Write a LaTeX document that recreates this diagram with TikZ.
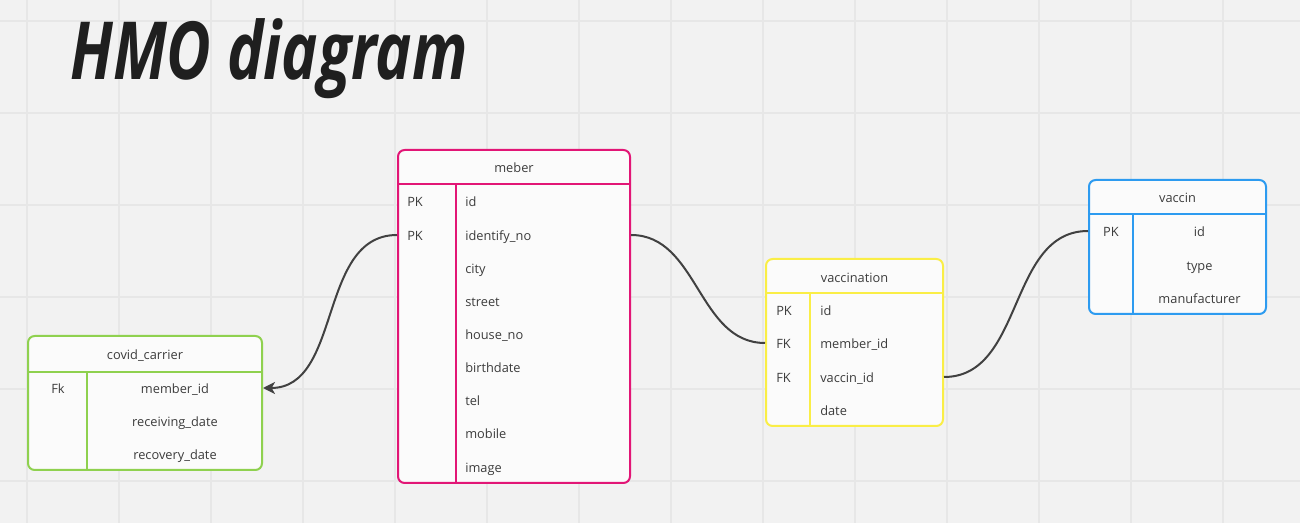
\documentclass[tikz,border=0pt]{standalone}
\usepackage{fontspec}
\setmainfont{Open Sans}
\usetikzlibrary{fit,arrows.meta}
\definecolor{bgc}{RGB}{242,242,242}
\definecolor{gridc}{RGB}{231,231,231}
\definecolor{boxc}{RGB}{251,251,251}
\definecolor{txtc}{RGB}{60,60,60}
\definecolor{linkc}{RGB}{65,65,65}
\definecolor{pinkc}{RGB}{226,22,118}
\definecolor{greenc}{RGB}{143,209,79}
\definecolor{yellowc}{RGB}{250,238,70}
\definecolor{bluec}{RGB}{45,155,240}

\begin{document}
\begin{tikzpicture}[x=0.75pt,y=-0.75pt,
  tbl/.style={draw, line width=1.5pt, rounded corners=5pt, fill=boxc, inner sep=0pt},
  sep/.style={line width=1.5pt},
  fld/.style={font=\fontsize{9.6}{11}\selectfont, text=txtc, inner sep=0pt, text height=10pt, text depth=2pt},
  link/.style={draw=linkc, line width=1.5pt}]
				%%%%% BACKGROUND %%%%%
				\fill[bgc] (0,0) rectangle (1300,523);
				\useasboundingbox (0,0) rectangle (1300,523);
				\foreach \gx in {27,119,...,1300}
					\draw[gridc, line width=0.9pt] (\gx,0) -- (\gx,523);
				\foreach \gy in {21,113,...,523}
					\draw[gridc, line width=0.9pt] (0,\gy) -- (1300,\gy);
				
				\node[anchor=base west, inner sep=0pt, text=black!88] (title) at (70,80)
					{\scalebox{0.74}[0.97]{\fontsize{62}{62}\selectfont\bfseries\itshape HMO diagram}};
				
				%%%%% MEBER %%%%%
				\node[tbl, draw=pinkc, fit={(398,150) (630,483)}] (meber) {};
				\draw[sep, pinkc] (meber.west |- 0,184) -- (meber.east |- 0,184);
				\draw[sep, pinkc] (456,184) -- (456,483);
				\node[fld] (meber-h) at (514,167) {meber};
				\node[fld, anchor=west] (m-pk1) at (407,201) {PK};
				\node[fld, anchor=west] (m-pk2) at (407,235) {PK};
				\node[fld, anchor=west] (m-id) at (465,201) {id};
				\node[fld, anchor=west] (m-idno) at (465,235) {identify\_no};
				\node[fld, anchor=west] (m-city) at (465,268) {city};
				\node[fld, anchor=west] (m-street) at (465,301) {street};
				\node[fld, anchor=west] (m-house) at (465,334) {house\_no};
				\node[fld, anchor=west] (m-birth) at (465,367) {birthdate};
				\node[fld, anchor=west] (m-tel) at (465,400) {tel};
				\node[fld, anchor=west] (m-mobile) at (465,433) {mobile};
				\node[fld, anchor=west] (m-image) at (465,467) {image};
				
				%%%%% COVID_CARRIER %%%%%
				\node[tbl, draw=greenc, fit={(28,336) (262,470)}] (covid) {};
				\draw[sep, greenc] (covid.west |- 0,372) -- (covid.east |- 0,372);
				\draw[sep, greenc] (87,372) -- (87,470);
				\node[fld] (covid-h) at (145,354) {covid\_carrier};
				\node[fld] (c-fk) at (58,388) {Fk};
				\node[fld] (c-mid) at (175,388) {member\_id};
				\node[fld] (c-recv) at (175,421) {receiving\_date};
				\node[fld] (c-recov) at (175,454) {recovery\_date};
				
				%%%%% VACCINATION %%%%%
				\node[tbl, draw=yellowc, fit={(766,259) (943,426)}] (vaccination) {};
				\draw[sep, yellowc] (vaccination.west |- 0,293) -- (vaccination.east |- 0,293);
				\draw[sep, yellowc] (810,293) -- (810,426);
				\node[fld] (vaccination-h) at (854.5,277) {vaccination};
				\node[fld, anchor=west] (v-pk) at (776,310) {PK};
				\node[fld, anchor=west] (v-fk1) at (776,343) {FK};
				\node[fld, anchor=west] (v-fk2) at (776,377) {FK};
				\node[fld, anchor=west] (v-id) at (820,310) {id};
				\node[fld, anchor=west] (v-mid) at (820,343) {member\_id};
				\node[fld, anchor=west] (v-vid) at (820,377) {vaccin\_id};
				\node[fld, anchor=west] (v-date) at (820,410) {date};
				
				%%%%% VACCIN %%%%%
				\node[tbl, draw=bluec, fit={(1089,180) (1266,314)}] (vaccin) {};
				\draw[sep, bluec] (vaccin.west |- 0,214) -- (vaccin.east |- 0,214);
				\draw[sep, bluec] (1133,214) -- (1133,314);
				\node[fld] (vaccin-h) at (1177.5,197) {vaccin};
				\node[fld] (vc-pk) at (1111,231) {PK};
				\node[fld] (vc-id) at (1199.5,231) {id};
				\node[fld] (vc-type) at (1199.5,265) {type};
				\node[fld] (vc-manu) at (1199.5,298) {manufacturer};
				
				%%%%% LINKS %%%%%
				\draw[link] (meber.east |- m-idno) to[out=0, in=180] (vaccination.west |- v-mid);
				\draw[link] (vaccination.east |- v-vid) to[out=0, in=180] (vaccin.west |- vc-id);
				\draw[link, -{Stealth[length=9pt, width=9pt, inset=2.5pt]}] (meber.west |- m-idno) to[out=180, in=0] (covid.east |- c-mid);
				%%%%% END %%%%%
\end{tikzpicture}
\end{document}
